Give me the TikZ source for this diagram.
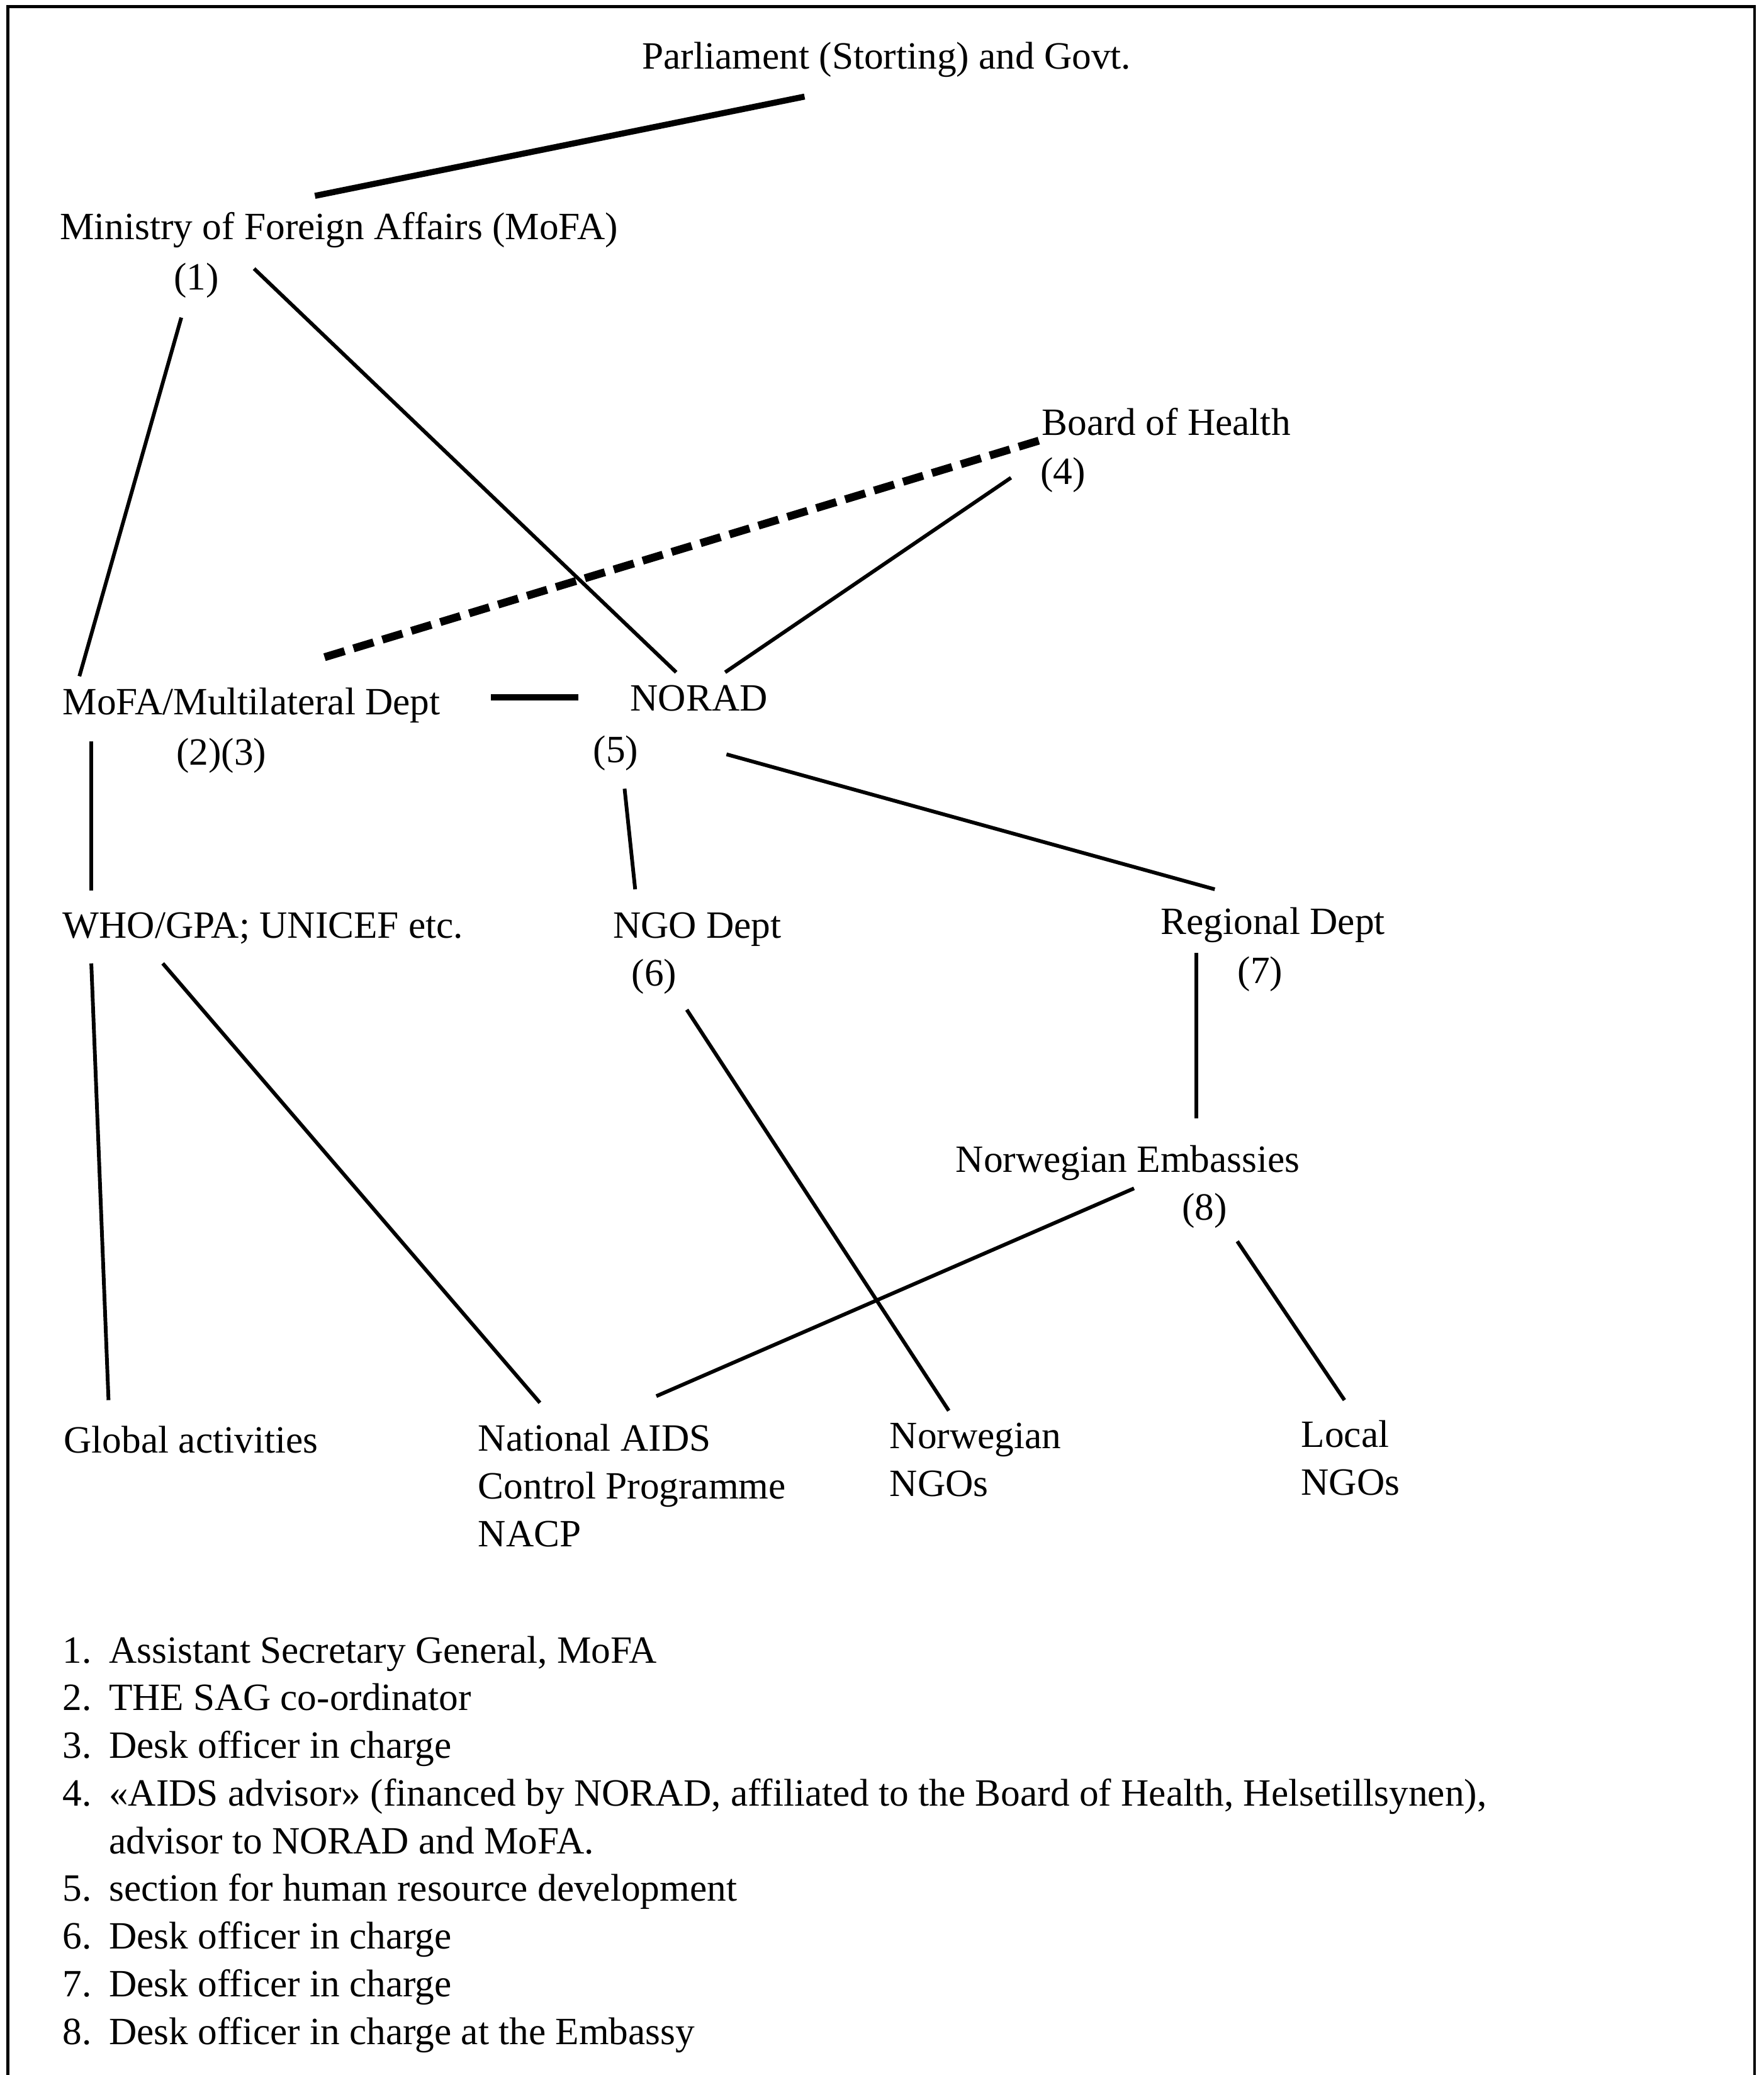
\documentclass[tikz,border=0pt]{standalone}
\usepackage{fontspec}
\setmainfont{Liberation Serif}
\usepackage{tikz}
\usetikzlibrary{calc}
\newcommand{\orgfont}{\fontsize{16.6}{20.5}\selectfont}
\tikzset{
    orglabel/.style  = {inner sep=0pt, anchor=base west, font=\orgfont},
    orgblock/.style  = {inner sep=0pt, anchor=north west, align=left, font=\orgfont},
    link/.style      = {line width=1.6pt},
    heavylink/.style = {line width=2.6pt},
    advice/.style    = {line width=3.4pt, dash pattern=on 9pt off 4pt},
    frameline/.style = {line width=1.2pt}
}

\begin{document}
\begin{tikzpicture}[x=0.02cm, y=-0.02cm]
            \useasboundingbox (0,0) rectangle (1333,1568);
            \draw[frameline] (6,1568) -- (6,5) -- (1326,5) -- (1326,1568);

            \node[orglabel] (parl)     at (485, 52)  {Parliament (Storting) and Govt.};
            \node[orglabel] (mofa)     at ( 45,181)  {Ministry of Foreign Affairs (MoFA)};
            \node[orglabel] (one)      at (131,219)  {(1)};
            \node[orglabel] (board)    at (787,329)  {Board of Health};
            \node[orglabel] (four)     at (786,366)  {(4)};
            \node[orglabel] (multi)    at ( 47,540)  {MoFA/Multilateral Dept};
            \node[orglabel] (twothree) at (133,578)  {(2)(3)};
            \node[orglabel] (norad)    at (476,537)  {NORAD};
            \node[orglabel] (five)     at (448,576)  {(5)};
            \node[orglabel] (who)      at ( 47,709)  {WHO/GPA; UNICEF etc.};
            \node[orglabel] (ngo)      at (463,709)  {NGO Dept};
            \node[orglabel] (six)      at (477,745)  {(6)};
            \node[orglabel] (regional) at (877,706)  {Regional Dept};
            \node[orglabel] (seven)    at (935,743)  {(7)};
            \node[orglabel] (embassy)  at (722,886)  {Norwegian Embassies};
            \node[orglabel] (eight)    at (893,922)  {(8)};
            \node[orglabel] (global)   at ( 48,1098) {Global activities};
            \node[orgblock] (nacp)     at (361,1076) {National AIDS\\Control Programme\\NACP};
            \node[orgblock] (norngo)   at (672,1075) {Norwegian\\NGOs};
            \node[orgblock] (localngo) at (983,1073) {Local\\NGOs};

            \node[inner sep=0pt, anchor=north west, font=\orgfont] (notes) at (47,1231)
                {\begin{tabular}{@{}r@{\hspace{7.5pt}}l@{}}
                 1. & Assistant Secretary General, MoFA\\
                 2. & THE SAG co-ordinator\\
                 3. & Desk officer in charge\\
                 4. & «AIDS advisor» (financed by NORAD, affiliated to the Board of Health, Helsetillsynen),\\
                    & advisor to NORAD and MoFA.\\
                 5. & section for human resource development\\
                 6. & Desk officer in charge\\
                 7. & Desk officer in charge\\
                 8. & Desk officer in charge at the Embassy
                 \end{tabular}};

            \draw[heavylink] ($(parl.base west)+(123,21)$)     -- ($(mofa.base west)+(193,-33)$);
            \draw[link]      ($(one.base west)+(6,21)$)        -- ($(multi.base west)+(13,-29)$);
            \draw[link]      ($(one.base west)+(61,-16)$)      -- ($(norad.base west)+(35,-29)$);
            \draw[advice]    ($(board.base west)+(-2,4)$)      -- ($(multi.base west)+(197,-43)$);
            \draw[link]      ($(four.base west)+(-22,-5)$)     -- ($(norad.base west)+(72,-29)$);
            \draw[heavylink] ($(multi.base west)+(324,-13)$)   -- ($(norad.base west)+(-39,-10)$);
            \draw[link]      ($(multi.base west)+(22,20)$)     -- ($(who.base west)+(22,-36)$);
            \draw[link]      ($(five.base west)+(24,20)$)      -- ($(ngo.base west)+(17,-37)$);
            \draw[link]      ($(norad.base west)+(73,33)$)     -- ($(regional.base west)+(41,-34)$);
            \draw[link]      ($(who.base west)+(22,19)$)       -- ($(global.base west)+(34,-40)$);
            \draw[link]      ($(who.base west)+(76,19)$)       -- ($(nacp.north west)+(47,-16)$);
            \draw[link]      ($(six.base west)+(42,18)$)       -- ($(norngo.north west)+(45,-9)$);
            \draw[link]      ($(regional.base west)+(27,14)$)  -- ($(embassy.base west)+(182,-41)$);
            \draw[link]      ($(embassy.base west)+(135,12)$)  -- ($(nacp.north west)+(135,-21)$);
            \draw[link]      ($(eight.base west)+(42,16)$)     -- ($(localngo.north west)+(33,-15)$);
        \end{tikzpicture}
\end{document}
